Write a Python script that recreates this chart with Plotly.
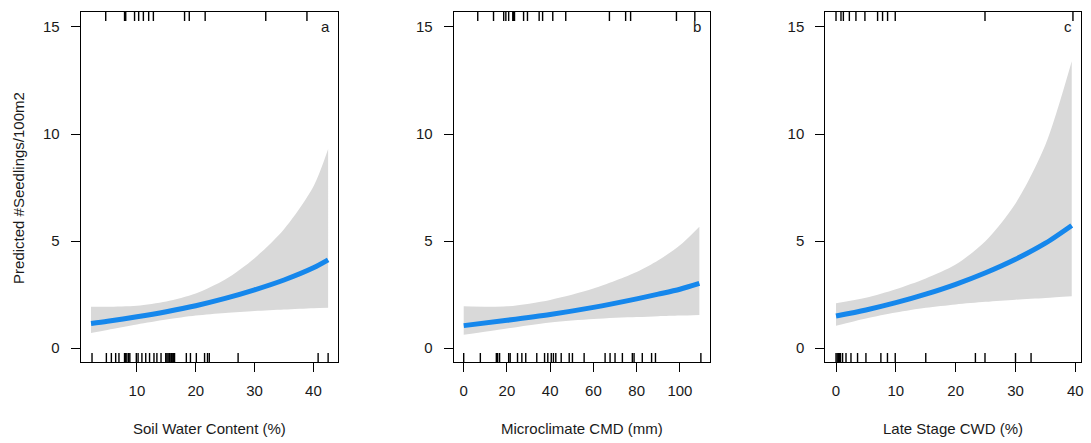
import plotly.graph_objects as go

# ---- data ----
a_x = [2.2, 5, 10, 15, 20, 25, 30, 35, 40, 42.5]
a_fit = [1.15, 1.25, 1.46, 1.70, 1.98, 2.32, 2.72, 3.18, 3.75, 4.12]
a_lo = [0.71, 0.85, 1.10, 1.33, 1.52, 1.64, 1.73, 1.80, 1.86, 1.88]
a_hi = [1.93, 1.93, 1.98, 2.18, 2.55, 3.20, 4.20, 5.55, 7.55, 9.30]
a_rug_top = [4.7, 7.9, 8.1, 9.6, 10.3, 11.1, 12.0, 12.8, 18.1, 18.9, 21.6, 31.9, 38.9]
a_rug_bot = [2.37, 4.81, 5.66, 6.39, 6.95, 7.9, 8.1, 8.3, 8.6, 8.8, 9.9, 10.2, 10.85,
             11.5, 12.15, 12.9, 13.4, 14.1, 14.9, 15.1, 15.3, 15.5, 15.6, 15.8, 15.9,
             16.0, 16.2, 16.4, 18.4, 19.1, 20.1, 21.5, 22.0, 22.3, 27.2, 40.8, 42.5]

b_x = [0, 20, 40, 60, 80, 90, 100, 109]
b_fit = [1.05, 1.30, 1.57, 1.90, 2.30, 2.52, 2.75, 3.02]
b_lo = [0.62, 0.92, 1.20, 1.36, 1.45, 1.49, 1.52, 1.55]
b_hi = [1.95, 1.95, 2.25, 2.78, 3.55, 4.10, 4.80, 5.67]
b_rug_top = [6.5, 13.8, 18.5, 19.5, 20.8, 22.7, 23.1, 23.5, 27.7, 29.5, 34.9, 36.5,
             41.2, 47.2, 67.4, 74.9, 77.2, 98.4, 106.9]
b_rug_bot = [0, 7.7, 15.1, 15.7, 16.6, 20.8, 21.5, 24.9, 26.9, 28.7, 33.8, 37.4, 38.9,
             40.5, 41.5, 42.6, 45.1, 48.8, 50.3, 55.7, 65.4, 67.7, 70.0, 73.4, 78.0,
             78.8, 82.6, 86.9, 88.7, 109.7]

c_x = [0, 5, 10, 15, 20, 25, 30, 35, 39.4]
c_fit = [1.50, 1.78, 2.12, 2.52, 2.98, 3.52, 4.15, 4.90, 5.73]
c_lo = [1.04, 1.38, 1.66, 1.88, 2.04, 2.16, 2.26, 2.34, 2.42]
c_hi = [2.09, 2.35, 2.75, 3.25, 3.90, 5.00, 6.75, 9.50, 13.40]
c_rug_top = [0, 0.83, 1.23, 2.23, 3.33, 4.83, 6.95, 7.78, 8.62, 9.9, 24.9, 39.6]
c_rug_bot = [0, 0.2, 0.4, 0.6, 0.75, 1.1, 1.67, 2.5, 3.6, 5.0, 7.5, 8.6, 9.9, 15.0,
             23.3, 24.9, 30.0, 32.6]

y_ticks = [0, 5, 10, 15]
x_labels = ["Soil Water Content (%)", "Microclimate CMD (mm)", "Late Stage CWD (%)"]
panel_letters = ["a", "b", "c"]
x_ticks = [[10, 20, 30, 40], [0, 20, 40, 60, 80, 100], [0, 10, 20, 30, 40]]
y_title = "Predicted #Seedlings/100m2"

# ---- layout geometry ----
W, H = 1091, 443
boxes = [(81, 339), (455, 711.7), (827.7, 1084)]
x_ranges = [[0.46, 44.19], [-4.6, 113.8], [-1.77, 40.95]]
y_range = [-0.65, 15.70]
ytop, ybot = 12, 362
ydom = [1 - ybot / H, 1 - ytop / H]

FONT = "Liberation Sans, Arial, sans-serif"
TXT = "#1a1a1a"
BAND = "#D9D9D9"
LINE = "#1587EC"

fig = go.Figure()
panels = [
    (a_x, a_fit, a_lo, a_hi, a_rug_top, a_rug_bot),
    (b_x, b_fit, b_lo, b_hi, b_rug_top, b_rug_bot),
    (c_x, c_fit, c_lo, c_hi, c_rug_top, c_rug_bot),
]

shapes = []
annotations = []
for i, (xs, fit, lo, hi, rt, rb) in enumerate(panels):
    n = "" if i == 0 else str(i + 1)
    xa, ya = "x" + n, "y" + n
    fig.add_trace(go.Scatter(x=xs, y=lo, mode="lines",
                             line=dict(width=0, shape="spline", smoothing=0.8),
                             xaxis=xa, yaxis=ya, showlegend=False, hoverinfo="skip"))
    fig.add_trace(go.Scatter(x=xs, y=hi, mode="lines",
                             line=dict(width=0, shape="spline", smoothing=0.8),
                             fill="tonexty", fillcolor=BAND,
                             xaxis=xa, yaxis=ya, showlegend=False, hoverinfo="skip"))
    fig.add_trace(go.Scatter(x=xs, y=fit, mode="lines",
                             line=dict(width=5, color=LINE, shape="spline", smoothing=0.8),
                             xaxis=xa, yaxis=ya, showlegend=False))
    for v in rt:
        shapes.append(dict(type="line", xref=xa, yref=ya + " domain", x0=v, x1=v, y0=1, y1=1 - 0.026,
                           line=dict(color="black", width=1.4)))
    for v in rb:
        shapes.append(dict(type="line", xref=xa, yref=ya + " domain", x0=v, x1=v, y0=0, y1=0.026,
                           line=dict(color="black", width=1.4)))
    x0, x1 = boxes[i]
    axcommon = dict(showline=True, linecolor="black", linewidth=1.3, mirror=True,
                    ticks="outside", ticklen=9, tickwidth=1.3, tickcolor="black",
                    showgrid=False, zeroline=False,
                    tickfont=dict(family=FONT, size=15, color=TXT))
    fig.layout["xaxis" + n] = dict(domain=[x0 / W, x1 / W], range=x_ranges[i], anchor=ya,
                                   tickvals=x_ticks[i], ticklabelstandoff=6, **axcommon)
    fig.layout["yaxis" + n] = dict(domain=ydom, range=y_range, anchor=xa,
                                   tickvals=y_ticks, ticklabelstandoff=8, **axcommon)
    annotations.append(dict(text=x_labels[i], xref="paper", yref="paper",
                            x=(x0 + x1) / 2 / W, y=1 - 428 / H, showarrow=False,
                            xanchor="center", yanchor="middle",
                            font=dict(family=FONT, size=15, color=TXT)))
    annotations.append(dict(text=panel_letters[i], xref="paper", yref="paper",
                            x=(x1 - 13) / W, y=1 - 27 / H, showarrow=False,
                            xanchor="center", yanchor="middle",
                            font=dict(family=FONT, size=15, color=TXT)))

annotations.append(dict(text=y_title, xref="paper", yref="paper", x=18 / W, y=1 - 188 / H,
                        textangle=-90, showarrow=False, xanchor="center", yanchor="middle",
                        font=dict(family=FONT, size=15, color=TXT)))

fig.update_layout(width=W, height=H, margin=dict(l=0, r=0, t=0, b=0),
                  paper_bgcolor="white", plot_bgcolor="white",
                  shapes=shapes, annotations=annotations)

fig.write_html("out.html")
